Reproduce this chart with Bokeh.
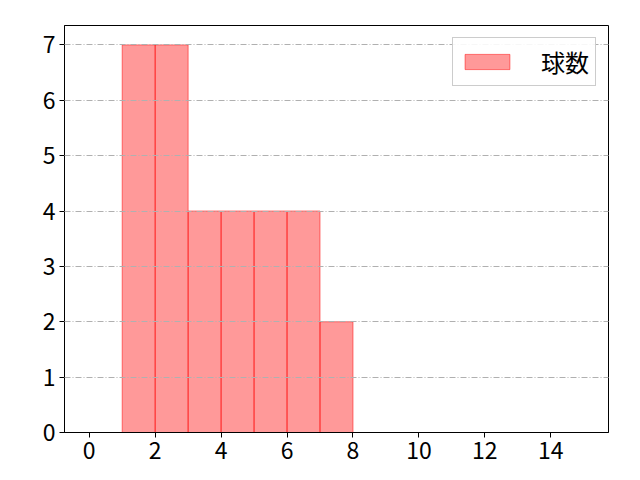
from bokeh.plotting import figure
from bokeh.models import Range1d, FixedTicker, Legend, LegendItem
from bokeh.embed import file_html
from bokeh.resources import INLINE

bin_left = [1, 2, 3, 4, 5, 6, 7]
bin_right = [2, 3, 4, 5, 6, 7, 8]
counts = [7, 7, 4, 4, 4, 4, 2]
series_name = "球数"
x_ticks = [0, 2, 4, 6, 8, 10, 12, 14]
y_ticks = [0, 1, 2, 3, 4, 5, 6, 7]

FONT = "Noto Sans CJK JP"

p = figure(width=632, height=472, output_backend="svg", toolbar_location=None,
           x_range=Range1d(-0.75, 15.75), y_range=Range1d(0, 7.35),
           min_border_left=64, min_border_right=24, min_border_top=25, min_border_bottom=40)

r = p.quad(left=bin_left, right=bin_right, bottom=0, top=counts,
           fill_color="red", fill_alpha=0.4, line_color="red", line_alpha=0.5, line_width=1)

p.outline_line_color = "black"
p.outline_line_width = 1
p.background_fill_color = "white"
p.border_fill_color = "white"

for ax, ticks in ((p.xaxis[0], x_ticks), (p.yaxis[0], y_ticks)):
    ax.ticker = FixedTicker(ticks=ticks)
    ax.major_label_text_font = FONT
    ax.major_label_text_font_size = "23px"
    ax.major_label_text_color = "black"
    ax.major_tick_out = 5
    ax.major_tick_in = 0
    ax.minor_tick_out = 0
    ax.minor_tick_in = 0
    ax.axis_line_color = "black"
    ax.major_tick_line_color = "black"
    ax.major_label_standoff = 4

p.xgrid.grid_line_color = None
p.ygrid.grid_line_color = "#b0b0b0"
p.ygrid.grid_line_dash = "6 2 1 2"
p.ygrid.grid_line_width = 1
p.ygrid.ticker = FixedTicker(ticks=y_ticks)
p.ygrid.level = "overlay"

legend = Legend(items=[LegendItem(label=series_name, renderers=[r])],
                location="top_right", margin=12, padding=6, glyph_width=56, glyph_height=19,
                label_standoff=26, label_text_font=FONT, label_text_font_size="24px",
                label_text_color="black",
                border_line_color="#cccccc", border_line_alpha=1.0, background_fill_alpha=0.9,
                spacing=0)
p.add_layout(legend)

open("out.html", "w").write(file_html(p, INLINE))
